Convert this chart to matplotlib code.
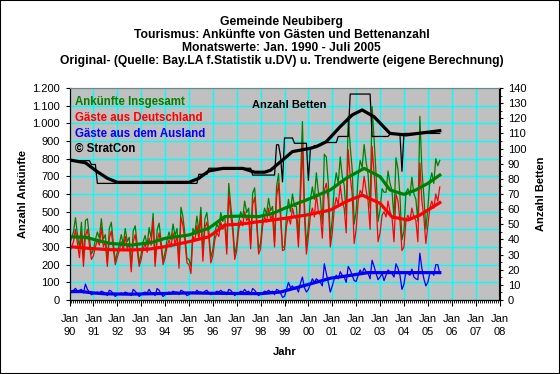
import numpy as np
import matplotlib.pyplot as plt
from matplotlib.ticker import MultipleLocator, FuncFormatter

plt.rcParams['font.family'] = ['Liberation Sans', 'DejaVu Sans']

# Gäste aus Deutschland, Monatswerte Jan 1990 - Jul 2005
german = [
    270, 300, 330, 400, 320, 240, 380, 190, 360, 400, 310, 230,   # 1990
    250, 300, 340, 310, 410, 300, 330, 190, 350, 390, 290, 200,   # 1991
    240, 280, 330, 280, 360, 290, 320, 160, 330, 370, 280, 190,   # 1992
    230, 290, 320, 270, 350, 310, 450, 190, 330, 380, 300, 200,   # 1993
    240, 300, 340, 300, 380, 320, 360, 180, 470, 420, 330, 210,   # 1994
    200, 150, 360, 340, 420, 340, 480, 220, 410, 440, 350, 210,   # 1995
    250, 340, 380, 360, 440, 400, 430, 260, 600, 480, 390, 230,   # 1996
    280, 400, 450, 420, 500, 450, 470, 290, 540, 580, 430, 260,   # 1997
    290, 420, 470, 440, 520, 460, 480, 300, 580, 660, 460, 280,   # 1998
    285, 420, 470, 430, 520, 470, 460, 300, 560, 880, 480, 260,   # 1999
    360, 480, 520, 470, 600, 500, 480, 350, 620, 660, 560, 300,   # 2000
    380, 520, 580, 540, 650, 560, 520, 380, 850, 700, 600, 320,   # 2001
    400, 560, 620, 600, 700, 620, 560, 400, 870, 720, 560, 330,   # 2002
    380, 480, 500, 470, 560, 500, 470, 330, 600, 560, 450, 280,   # 2003
    300, 450, 480, 450, 520, 470, 450, 330, 775, 560, 470, 320,   # 2004
    420, 520, 560, 520, 600, 560, 640,                            # 2005
]

# Gäste aus dem Ausland
foreign = [
    45, 50, 55, 66, 50, 55, 60, 40, 90, 60, 45, 30,
    35, 40, 45, 40, 50, 45, 40, 25, 55, 50, 35, 20,
    30, 35, 40, 35, 45, 40, 35, 25, 60, 50, 35, 20,
    30, 40, 45, 40, 60, 40, 40, 25, 65, 55, 35, 20,
    30, 40, 45, 40, 50, 45, 45, 30, 55, 50, 40, 25,
    30, 40, 45, 40, 55, 45, 45, 35, 50, 55, 40, 30,
    35, 40, 50, 45, 55, 45, 45, 30, 60, 55, 40, 25,
    35, 40, 50, 45, 60, 45, 50, 30, 65, 55, 40, 25,
    35, 40, 50, 45, 55, 45, 50, 30, 60, 55, 40, 15,
    20, 60, 100, 70, 80, 60, 70, 45, 95, 130, 70, 45,
    60, 90, 120, 100, 120, 110, 100, 80, 205, 150, 100, 45,
    80, 120, 140, 120, 160, 140, 130, 100, 190, 170, 140, 110,
    105, 140, 170, 150, 180, 160, 150, 120, 225, 190, 150, 115,
    130, 150, 110, 140, 170, 160, 150, 130, 205, 180, 140, 60,
    90, 160, 150, 140, 175, 130, 120, 115, 265, 180, 120, 80,
    100, 150, 160, 140, 200, 200, 150,
]

# Anzahl Betten als Stufen: Wert und Dauer in Monaten
bed_levels = [92, 89.5, 77, 83, 87, 82.5, 102.5, 95, 78, 107, 103.5, 79, 100,
              102, 104, 108, 136, 108, 109.5, 85, 110]
bed_runs = [11, 3, 51, 5, 22, 12, 2, 1, 1, 5, 7, 1, 2, 4, 8, 6, 11, 9, 6, 1, 19]

# Trendwerte (Monatsindex ab Jan 1990, Wert)
trend_total_m = [0, 8, 20, 31, 41, 48, 60, 70, 78, 86, 95, 102, 108, 119, 131,
                 139, 148, 156, 161, 168, 174, 180, 186]
trend_total = [358, 355, 321, 311, 325, 349, 368, 406, 472, 475, 472, 490, 519,
               566, 623, 689, 745, 698, 623, 598, 623, 660, 707]
trend_de_m = [0, 10, 20, 31, 40, 48, 60, 70, 78, 86, 95, 102, 108, 119, 131,
              139, 147, 156, 162, 170, 176, 186]
trend_de = [302, 292, 285, 283, 288, 302, 330, 358, 424, 430, 443, 453, 462,
            481, 509, 557, 594, 547, 470, 453, 481, 551]
trend_aus_m = [0, 6, 12, 18, 30, 48, 60, 72, 96, 106, 119, 131, 139, 150, 186]
trend_aus = [47, 48, 40, 35, 33, 37, 40, 38, 36, 45, 85, 123, 136, 155, 155]
trend_bed_m = [0, 8, 14, 19, 24, 60, 65, 70, 77, 87, 93, 98, 101, 106, 112, 121,
               124, 129, 136, 142, 147, 153, 161, 169, 186]
trend_bed = [92.5, 90.6, 84.7, 80.4, 77.7, 77.7, 80.4, 85.2, 86.9, 86.9, 84.4,
             84.4, 85.7, 91.3, 98, 100.2, 101.3, 104.5, 114.5, 122.2, 125.5,
             121, 110, 109, 111.8]

years = ['90', '91', '92', '93', '94', '95', '96', '97', '98', '99',
         '00', '01', '02', '03', '04', '05', '06', '07', '08']

german = np.array(german)
foreign = np.array(foreign)
total = german + foreign
months = np.arange(len(german))
beds = np.repeat(bed_levels, bed_runs)

fig = plt.figure(figsize=(5.6, 3.74), dpi=100)
ax = fig.add_axes([69.5 / 560, 1 - 300 / 374, 430 / 560, 212 / 374])
ax.set_facecolor('#C0C0C0')

ax.plot(months, total, color='#008000', lw=0.9)
ax.plot(months, german, color='#FF0000', lw=0.9)
ax.plot(months, foreign, color='#0000FF', lw=0.9)
ax.plot(trend_total_m, trend_total, color='#008000', lw=2.3)
ax.plot(trend_de_m, trend_de, color='#FF0000', lw=2.3)
ax.plot(trend_aus_m, trend_aus, color='#0000FF', lw=2.3)

ax.set_xlim(0, 216)
ax.set_ylim(0, 1200)
ax.set_xticks(np.arange(0, 217, 12))
ax.set_xticklabels(['Jan\n' + y for y in years], fontsize=8, linespacing=1.45)
ax.xaxis.set_minor_locator(MultipleLocator(1))
ax.yaxis.set_major_locator(MultipleLocator(100))
ax.yaxis.set_major_formatter(FuncFormatter(lambda v, p: f'{int(v):,}'.replace(',', '.')))
ax.tick_params(axis='y', labelsize=8, length=3, pad=4)
ax.tick_params(axis='x', which='major', length=4, pad=6)
ax.tick_params(axis='x', which='minor', length=2)
ax.grid(True, color='#00FFFF', lw=1)
ax.set_axisbelow(True)
ax.spines['top'].set_color('#808080')

ax.set_xlabel('Jahr', fontsize=8, fontweight='bold', labelpad=7)
ax.set_ylabel('Anzahl Ankünfte', fontsize=8, fontweight='bold', labelpad=3)

ax2 = ax.twinx()
ax2.plot(months, beds, color='black', lw=0.9)
ax2.plot(trend_bed_m, trend_bed, color='black', lw=2.3)
ax2.set_ylim(0, 140)
ax2.yaxis.set_major_locator(MultipleLocator(10))
ax2.yaxis.set_minor_locator(MultipleLocator(5))
ax2.tick_params(axis='y', labelsize=8, length=3, pad=3)
ax2.tick_params(axis='y', which='minor', length=2)
ax2.spines['top'].set_color('#808080')
ax2.set_ylabel('Anzahl Betten', fontsize=8, fontweight='bold', labelpad=7)

ax.text(0.012, 0.935, 'Ankünfte Insgesamt', transform=ax.transAxes, color='#008000',
        fontsize=8.3, fontweight='bold', va='center')
ax.text(0.012, 0.86, 'Gäste aus Deutschland', transform=ax.transAxes, color='#FF0000',
        fontsize=8.3, fontweight='bold', va='center')
ax.text(0.012, 0.785, 'Gäste aus dem Ausland', transform=ax.transAxes, color='#0000FF',
        fontsize=8.3, fontweight='bold', va='center')
ax.text(0.012, 0.713, '© StratCon', transform=ax.transAxes, color='black',
        fontsize=8.3, fontweight='bold', va='center')
ax.text(0.51, 0.92, 'Anzahl Betten', transform=ax.transAxes, color='black',
        fontsize=8, fontweight='bold', va='center', ha='center')

title = ['Gemeinde Neubiberg',
         'Tourismus: Ankünfte von Gästen und Bettenanzahl',
         'Monatswerte: Jan. 1990 - Juli 2005',
         'Original- (Quelle: Bay.LA f.Statistik u.DV) u. Trendwerte (eigene Berechnung)']
for i, line in enumerate(title):
    fig.text(0.503, 1 - (22 + 13 * i) / 374, line, ha='center', va='center',
             fontsize=8.7, fontweight='bold')

fig.add_artist(plt.Rectangle((0, 0), 1, 1, transform=fig.transFigure,
                             fill=False, ec='black', lw=1.5))

fig.savefig('out.png', dpi=100, facecolor='white')
